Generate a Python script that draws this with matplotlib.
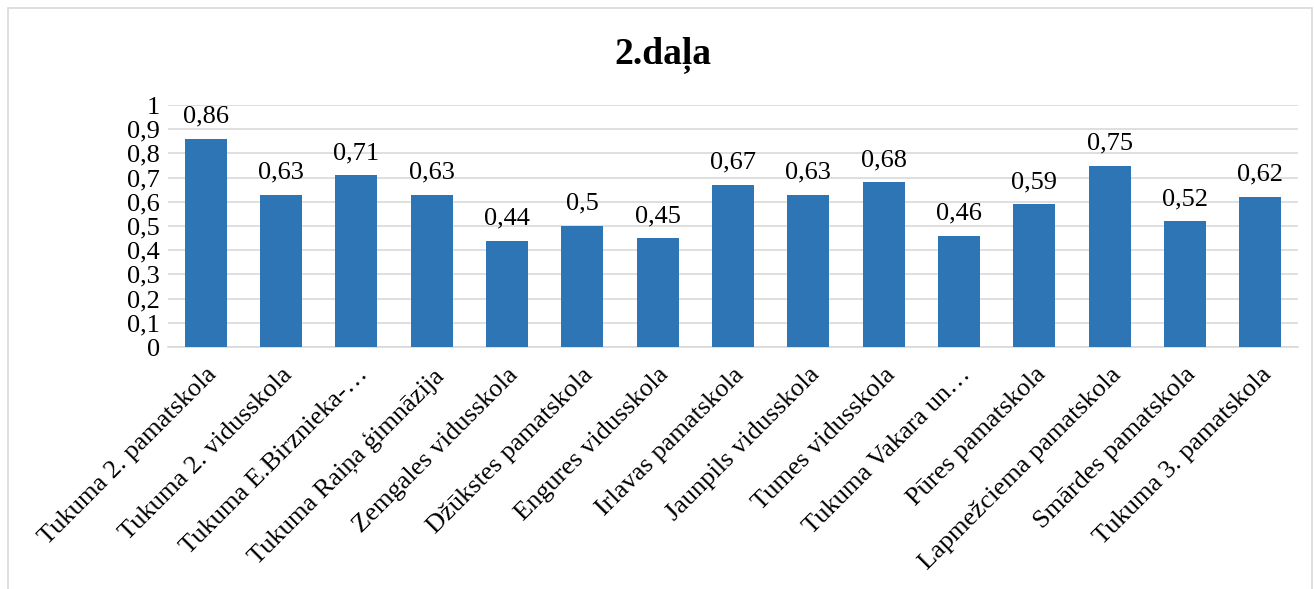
import matplotlib.pyplot as plt
from matplotlib.patches import Rectangle
from matplotlib.transforms import ScaledTranslation

schools = ['Tukuma 2. pamatskola', 'Tukuma 2. vidusskola', 'Tukuma E.Birznieka-…',
           'Tukuma Raiņa ģimnāzija', 'Zemgales vidusskola', 'Džūkstes pamatskola',
           'Engures vidusskola', 'Irlavas pamatskola', 'Jaunpils vidusskola',
           'Tumes vidusskola', 'Tukuma Vakara un…', 'Pūres pamatskola',
           'Lapmežciema pamatskola', 'Smārdes pamatskola', 'Tukuma 3. pamatskola']
scores = [0.86, 0.63, 0.71, 0.63, 0.44, 0.5, 0.45, 0.67, 0.63, 0.68, 0.46, 0.59, 0.75, 0.52, 0.62]
yticks = [0, 0.1, 0.2, 0.3, 0.4, 0.5, 0.6, 0.7, 0.8, 0.9, 1]

def fmt(v):
    return ('%g' % v).replace('.', ',')

plt.rcParams['font.family'] = ['Liberation Serif', 'DejaVu Serif']

fig = plt.figure(figsize=(13.14, 5.89), dpi=100)
fig.patches.append(Rectangle((8 / 1314, -0.05), 1304 / 1314, 1.05 - 8 / 589,
                             transform=fig.transFigure, fill=False,
                             edgecolor='#D9D9D9', linewidth=1.2))
ax = fig.add_axes([168 / 1314, 1 - 347 / 589, 1130 / 1314, 242 / 589])

x = range(len(schools))
bars = ax.bar(x, scores, width=0.56, color='#2E75B6', zorder=3)
for xi, v in zip(x, scores):
    ax.annotate(fmt(v), (xi, v), xytext=(0, 8), textcoords='offset points',
                ha='center', va='bottom', fontsize=19)

ax.set_ylim(0, 1)
ax.set_xlim(-0.5, len(schools) - 0.5)
ax.set_yticks(yticks)
ax.set_yticklabels([fmt(t) for t in yticks], fontsize=19)
ax.yaxis.grid(True, color='#D9D9D9', linewidth=1.2, zorder=0)
ax.set_xticks(list(x))
ax.set_xticklabels(schools, rotation=45, ha='right', va='top',
                   rotation_mode='anchor', fontsize=19)
shift = ScaledTranslation(-5 / 100, 0, fig.dpi_scale_trans)
for lab in ax.get_xticklabels():
    lab.set_transform(lab.get_transform() + shift)
ax.tick_params(axis='x', length=0, pad=12)
ax.tick_params(axis='y', length=0, pad=6)
for s in ['top', 'right', 'left']:
    ax.spines[s].set_visible(False)
ax.spines['bottom'].set_color('#D9D9D9')
ax.spines['bottom'].set_linewidth(1.2)

fig.text(663 / 1314, 1 - 55 / 589, '2.daļa', ha='center', va='center',
         fontsize=27, fontweight='bold')

fig.savefig('out.png', dpi=100)
